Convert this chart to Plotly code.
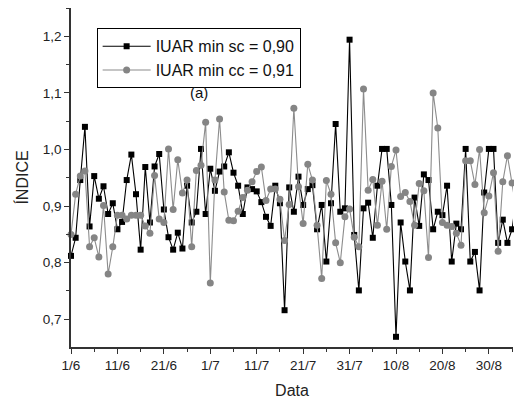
import pandas as pd
import plotly.graph_objects as go

start_date = "2013-06-01"
n_days = 97
dates = pd.date_range(start_date, periods=n_days, freq="D")

iuar_sc = [0.812, 0.844, 0.946, 1.040, 0.864, 0.953, 0.913, 0.935, 0.886, 0.905,
           0.859, 0.872, 0.946, 0.991, 0.921, 0.823, 0.969, 0.871, 0.970, 0.992,
           0.894, 0.845, 0.823, 0.853, 0.825, 0.936, 0.871, 0.890, 1.001, 0.886,
           0.966, 0.927, 0.961, 0.970, 0.995, 0.959, 0.936, 0.886, 0.933, 0.930,
           0.926, 0.907, 0.881, 0.865, 0.936, 0.905, 0.716, 0.933, 0.890, 0.952,
           0.902, 0.930, 0.937, 0.859, 0.902, 0.802, 0.905, 1.045, 0.890, 0.896,
           1.194, 0.849, 0.751, 0.896, 0.906, 0.844, 0.936, 1.001, 1.001, 0.902,
           0.669, 0.871, 0.802, 0.751, 0.915, 0.865, 0.956, 0.946, 0.859, 0.890,
           0.884, 0.936, 0.802, 0.869, 0.859, 1.001, 0.802, 0.819, 0.751, 0.924,
           1.001, 1.001, 0.835, 0.876, 0.835, 0.859, 0.920]

iuar_cc = [0.850, 0.921, 0.953, 0.962, 0.828, 0.844, 0.810, 0.901, 0.780, 0.828,
           0.884, 0.884, 0.877, 0.884, 0.884, 0.884, 0.865, 0.852, 0.954, 0.877,
           0.871, 1.001, 0.894, 0.982, 0.923, 0.946, 0.828, 0.963, 0.972, 1.048,
           0.764, 0.946, 1.054, 0.925, 0.875, 0.874, 0.891, 0.915, 0.928, 0.943,
           0.961, 0.969, 0.910, 0.930, 0.930, 0.912, 0.839, 0.903, 1.073, 0.934,
           0.869, 0.974, 0.946, 0.866, 0.772, 0.945, 0.921, 0.835, 0.800, 0.881,
           0.895, 0.845, 0.828, 1.107, 0.928, 0.947, 0.866, 0.944, 0.859, 0.970,
           0.999, 0.917, 0.924, 0.908, 0.866, 0.940, 0.927, 0.809, 1.100, 1.038,
           0.871, 0.866, 0.864, 0.852, 0.831, 0.980, 0.980, 0.938, 1.000, 0.888,
           0.918, 0.959, 0.820, 0.943, 0.989, 0.941, 0.890]

tick_days = [0, 10, 20, 30, 40, 50, 60, 70, 80, 90]
tick_labels = ["1/6", "11/6", "21/6", "1/7", "11/7", "21/7", "31/7", "10/8", "20/8", "30/8"]
minor_days = [5, 15, 25, 35, 45, 55, 65, 75, 85, 95]

tick_vals = [dates[d] for d in tick_days]
minor_vals = [dates[d] for d in minor_days]

font_family = "Arial, Liberation Sans, sans-serif"

fig = go.Figure()
fig.add_trace(go.Scatter(
    x=dates, y=iuar_sc, mode="lines+markers",
    name="IUAR min sc = 0,90",
    line=dict(color="#000000", width=1.1),
    marker=dict(symbol="square", size=6, color="#000000"),
    cliponaxis=False,
))
fig.add_trace(go.Scatter(
    x=dates, y=iuar_cc, mode="lines+markers",
    name="IUAR min cc = 0,91",
    line=dict(color="#8c8c8c", width=1.1),
    marker=dict(symbol="circle", size=7, color="#858585"),
    cliponaxis=False,
))

x_end = pd.Timestamp(start_date) + pd.Timedelta(days=95.2)

fig.update_layout(
    width=514, height=399,
    margin=dict(l=71, r=1, t=8, b=52),
    paper_bgcolor="white", plot_bgcolor="white",
    separators=",.",
    font=dict(family=font_family, size=13.5, color="#222222"),
    showlegend=True,
    legend=dict(
        x=0.058, y=0.94, xanchor="left", yanchor="top",
        bgcolor="white", bordercolor="#000000", borderwidth=1,
        font=dict(size=16, color="#111111"),
        tracegroupgap=0, itemwidth=48,
    ),
    annotations=[dict(
        text="(a)", x=0.29, y=0.752, xref="paper", yref="paper",
        xanchor="center", yanchor="middle",
        showarrow=False, font=dict(size=15, color="#111111"),
    )],
)

fig.update_xaxes(
    range=[pd.Timestamp(start_date), x_end],
    tickmode="array", tickvals=tick_vals, ticktext=tick_labels,
    ticks="outside", ticklen=5, tickwidth=1.2, tickcolor="#333333",
    minor=dict(tickmode="array", tickvals=minor_vals, ticks="outside",
               ticklen=3, tickwidth=1.2, tickcolor="#333333"),
    showline=True, linecolor="#333333", linewidth=1.5,
    showgrid=False, zeroline=False,
    tickfont=dict(size=13.5),
    title=dict(text="Data", font=dict(size=16), standoff=13),
)
fig.update_yaxes(
    range=[0.651, 1.25],
    tickmode="linear", tick0=0.7, dtick=0.1, tickformat=".1f",
    ticks="outside", ticklen=5, tickwidth=1.2, tickcolor="#333333",
    minor=dict(dtick=0.05, tick0=0.65, ticks="outside", ticklen=3,
               tickwidth=1.2, tickcolor="#333333"),
    showline=True, linecolor="#333333", linewidth=1.5,
    showgrid=False, zeroline=False,
    tickfont=dict(size=13.5),
    title=dict(text="ÍNDICE", font=dict(size=16), standoff=10),
)

fig.write_html("out.html")
